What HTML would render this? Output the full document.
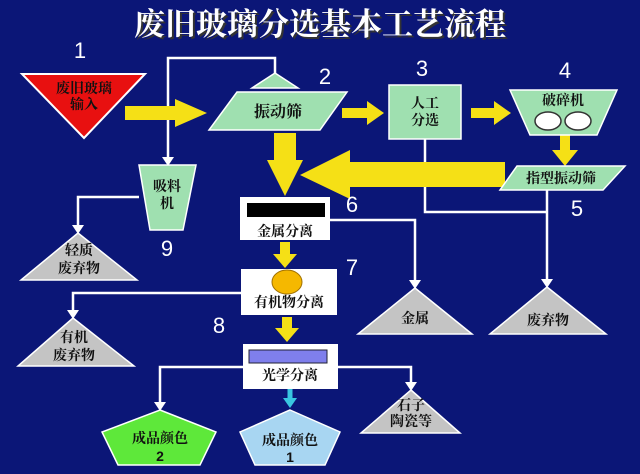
<!DOCTYPE html>
<html><head><meta charset="utf-8"><style>
html,body{margin:0;padding:0;background:#0b1677;}
svg{display:block}
text{font-family:"Liberation Sans","Noto Serif CJK SC","Noto Sans CJK SC",sans-serif;font-weight:bold;text-anchor:middle;fill:#111;}
.n{fill:#fff;font-size:22px;font-family:"Liberation Sans",sans-serif;font-weight:normal}
.t{font-size:14px}
</style></head><body>
<svg width="640" height="474" viewBox="0 0 640 474" xmlns="http://www.w3.org/2000/svg">
<rect width="640" height="474" fill="#0b1677"/>
<text x="322" y="37" style="font-size:31px;fill:#333" >废旧玻璃分选基本工艺流程</text>
<text x="320" y="35" style="font-size:31px;fill:#fff">废旧玻璃分选基本工艺流程</text>

<!-- white connectors -->
<g stroke="#fff" stroke-width="2.5" fill="none">
<path d="M275,73 V58 H168 V158"/>
<path d="M139,197 H78 V226"/>
<path d="M425,139 V212 H547"/>
<path d="M547,190 V280"/>
<path d="M330,220 H415 V281"/>
<path d="M241,293 H73 V311"/>
<path d="M243,367 H160 V403"/>
<path d="M338,367 H411 V383"/>
</g>
<g fill="#fff">
<path d="M162,157 L174,157 L168,166z"/>
<path d="M72,225 L84,225 L78,234z"/>
<path d="M541,279 L553,279 L547,288z"/>
<path d="M409,280 L421,280 L415,289z"/>
<path d="M67,310 L79,310 L73,319z"/>
<path d="M154,402 L166,402 L160,411z"/>
<path d="M405,382 L417,382 L411,391z"/>
</g>
<path d="M290,389 V400" stroke="#39c6e0" stroke-width="5"/>
<path d="M283,398 L297,398 L290,408z" fill="#39c6e0"/>

<!-- yellow arrows -->
<g fill="#f5e016">
<path d="M125,106 H175 V99 L207,113 L175,127 V120 H125z"/>
<path d="M274,133 H296 V160 H303 L285,196 L267,160 H274z"/>
<path d="M342,108 H367 V101 L384,113 L367,125 V118 H342z"/>
<path d="M471,108 H494 V101 L511,113 L494,125 V118 H471z"/>
<path d="M560,135 H570 V150 H578 L565,166 L552,150 H560z"/>
<path d="M505,162 H350 V150 L300,175 L350,199 V187 H505z"/>
<path d="M280,242 H290 V254 H297 L285,268 L273,254 H280z"/>
<path d="M282,317 H292 V328 H299 L287,342 L275,328 H282z"/>
</g>

<text class="n" x="80" y="58">1</text><text class="n" x="325" y="84">2</text><text class="n" x="422" y="76">3</text><text class="n" x="565" y="78">4</text><text class="n" x="577" y="216">5</text><text class="n" x="352" y="212">6</text><text class="n" x="352" y="275">7</text><text class="n" x="219" y="333">8</text><text class="n" x="167" y="256">9</text>

<!-- nodes -->
<polygon points="22,74 145,74 84,138" fill="#e81010" stroke="#fff" stroke-width="2"/>
<text class="t" x="84" y="93">废旧玻璃</text><text class="t" x="84" y="109">输入</text>

<polygon points="275,73 298,88 252,88" fill="#9fe0b0" stroke="#fff" stroke-width="1.5"/>
<polygon points="237,92 347,92 320,130 209,130" fill="#9fe0b0" stroke="#fff" stroke-width="1.5"/>
<text x="278" y="117" style="font-size:16px">振动筛</text>

<rect x="389" y="85" width="72" height="54" fill="#9fe0b0" stroke="#fff" stroke-width="1.5"/>
<text class="t" x="425" y="108">人工</text><text class="t" x="425" y="125">分选</text>

<polygon points="510,90 617,90 597,135 530,135" fill="#9fe0b0" stroke="#fff" stroke-width="1.5"/>
<text class="t" x="563" y="105">破碎机</text>
<ellipse cx="548" cy="121" rx="13" ry="9" fill="#fff" stroke="#333" stroke-width="1.5"/>
<ellipse cx="578" cy="121" rx="13" ry="9" fill="#fff" stroke="#333" stroke-width="1.5"/>

<polygon points="517,166 625,166 603,190 500,190" fill="#9fe0b0" stroke="#fff" stroke-width="1.5"/>
<text class="t" x="561" y="183">指型振动筛</text>

<polygon points="139,165 196,165 183,230 150,230" fill="#9fe0b0" stroke="#fff" stroke-width="1.5"/>
<text class="t" x="167" y="191">吸料</text><text class="t" x="167" y="208">机</text>

<polygon points="78,233 137,280 21,280" fill="#c4c4c4" stroke="#fff" stroke-width="1.5"/>
<text class="t" x="79" y="255">轻质</text><text class="t" x="79" y="273">废弃物</text>

<rect x="240" y="197" width="90" height="43" fill="#fff"/>
<rect x="247" y="203" width="78" height="14" fill="#000"/>
<text class="t" x="285" y="236">金属分离</text>

<polygon points="547,287 606,334 490,334" fill="#c4c4c4" stroke="#fff" stroke-width="1.5"/>
<text class="t" x="548" y="325">废弃物</text>
<polygon points="415,288 472,334 358,334" fill="#c4c4c4" stroke="#fff" stroke-width="1.5"/>
<text class="t" x="415" y="323">金属</text>

<rect x="241" y="269" width="96" height="46" fill="#fff"/>
<ellipse cx="287" cy="282" rx="15" ry="12" fill="#f5b800" stroke="#a07000"/>
<text class="t" x="289" y="307">有机物分离</text>

<polygon points="73,318 134,366 18,366" fill="#c4c4c4" stroke="#fff" stroke-width="1.5"/>
<text class="t" x="74" y="342">有机</text><text class="t" x="74" y="360">废弃物</text>

<rect x="243" y="344" width="95" height="45" fill="#fff"/>
<rect x="249" y="350" width="78" height="13" fill="#7f7fec" stroke="#223" stroke-width="1"/>
<text class="t" x="290" y="380">光学分离</text>

<polygon points="411,390 460,433 361,433" fill="#c4c4c4" stroke="#fff" stroke-width="1.5"/>
<text class="t" x="411" y="410">石子</text><text class="t" x="411" y="426">陶瓷等</text>

<polygon points="160,410 216,432 200,465 118,465 102,432" fill="#5ee83a" stroke="#fff" stroke-width="1.5"/>
<text class="t" x="160" y="443">成品颜色</text><text class="t" x="160" y="461">2</text>
<polygon points="290,410 340,432 325,465 255,465 240,432" fill="#a8d6f2" stroke="#fff" stroke-width="1.5"/>
<text class="t" x="290" y="445">成品颜色</text><text class="t" x="290" y="462">1</text>
</svg>
</body></html>
